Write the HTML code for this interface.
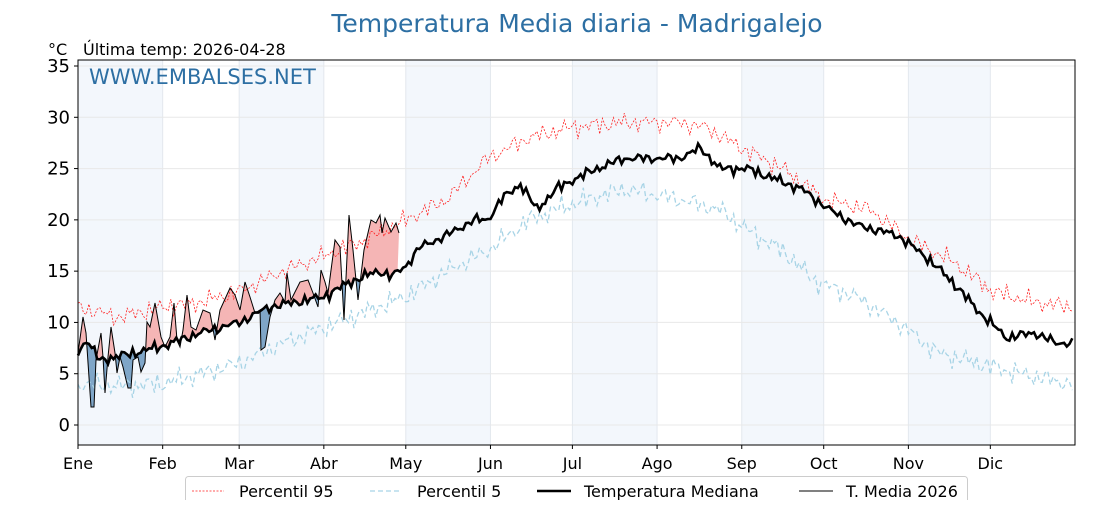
<!DOCTYPE html>
<html><head><meta charset="utf-8"><style>
body{margin:0;background:#fff;}
svg text{font-family:"DejaVu Sans","Liberation Sans",sans-serif;}
</style></head><body>
<svg id="s" width="1120" height="500" xmlns="http://www.w3.org/2000/svg"></svg>
<script>
const L=78,R=1075,T=60,B=445;
const X=d=>L+d*(R-L)/365, Y=v=>425-v*10.257;
function interp(a,d){for(let i=0;i<a.length-1;i++){if(d<=a[i+1][0]){const t=(d-a[i][0])/(a[i+1][0]-a[i][0]);return a[i][1]+t*(a[i+1][1]-a[i][1]);}}return a[a.length-1][1];}
function nz(d,s,a){return a*(Math.sin(d*1.7+s)*0.5+Math.sin(d*0.63+s*2)*0.3+Math.sin(d*3.1+s*3)*0.35+Math.sin(d*2.3+s*5)*0.3);}
const med=[[0,7],[3,8.3],[8,6.3],[20,7],[31,7.7],[45,9],[59,10],[70,11.5],[90,12.5],[100,14],[110,15],[115,14.5],[120,15.5],[125,17.3],[135,18.5],[145,20],[150,20],[155,22],[162,23.5],[168,21],[175,23],[182,24],[190,25],[200,26],[210,26],[220,26],[228,27],[235,25],[245,25],[255,24],[265,23],[275,21],[285,19.5],[300,18.5],[310,16.5],[320,14],[330,11],[340,8.5],[350,9],[358,8],[364,8]];
const p95=[[0,11.5],[15,10.5],[31,11.5],[45,12],[59,13],[75,15],[90,16.5],[105,18],[120,20],[135,22],[150,26],[165,28],[180,29],[200,29.5],[220,29.5],[230,29],[243,27],[258,25],[273,22],[290,21],[305,18],[320,16],[335,13],[350,12],[364,11.5]];
const p5=[[0,4],[15,3.8],[31,4],[45,5],[59,6],[75,8],[90,9.5],[105,11],[120,12.5],[135,15],[150,17],[165,20],[180,21.5],[200,23],[220,22],[235,21],[245,19],[258,17],[270,14],[285,12.5],[300,10],[315,7],[330,6],[345,5],[364,4]];
const cur=[[78,353],[83,317],[86,333],[91,407],[94,407],[96,360],[101,333],[103,357],[105,393],[108,357],[111,327],[115,353],[117,373],[120,357],[123,367],[128,388],[131,388],[133,360],[138,357],[141,372],[145,363],[147,322],[150,327],[155,303],[158,320],[161,337],[165,347],[170,337],[174,303],[177,340],[180,347],[183,330],[187,295],[191,327],[196,330],[203,310],[210,313],[215,340],[220,310],[230,288],[235,295],[240,310],[245,282],[250,297],[255,313],[260,310],[261,350],[265,347],[270,317],[275,300],[280,293],[285,302],[287,273],[291,300],[295,292],[300,282],[308,280],[313,293],[318,307],[321,270],[325,282],[328,293],[335,240],[340,247],[344,320],[349,215],[353,250],[358,300],[364,250],[371,220],[376,223],[380,215],[382,233],[385,218],[391,232],[396,223],[399,233]];
let s='';
const mx=[0,31,59,90,120,151,181,212,243,273,304,334,365];
for(let i=0;i<12;i+=2)s+=`<rect x="${X(mx[i])}" y="${T}" width="${X(mx[i+1])-X(mx[i])}" height="${B-T}" fill="#f3f7fc"/>`;
for(let i=1;i<12;i++)s+=`<line x1="${X(mx[i])}" y1="${T}" x2="${X(mx[i])}" y2="${B}" stroke="#e3e8ee" stroke-width="1"/>`;
for(let v=0;v<=35;v+=5)s+=`<line x1="${L}" y1="${Y(v)}" x2="${R}" y2="${Y(v)}" stroke="#e8e8e8" stroke-width="1"/>`;
function line(arr,sd,a){let p=[];for(let d=0;d<365;d++)p.push(X(d).toFixed(1)+','+Y(interp(arr,d)+nz(d,sd,a)).toFixed(1));return p;}
const medP=[];for(let d=0;d<365;d++)medP.push([X(d),Y(interp(med,d)+nz(d,5,0.5))]);
let curPts=cur.map(p=>p.join(','));
let medBack=medP.filter(p=>p[0]<=399).reverse().map(p=>p[0].toFixed(1)+','+p[1].toFixed(1));
let poly=curPts.concat(medBack).join(' ');
let medStr=medP.map(p=>p[0].toFixed(1)+','+p[1].toFixed(1)).join(' ');
s+=`<defs><clipPath id="ca"><polygon points="${L},${T} ${medStr} ${R},${T}"/></clipPath><clipPath id="cb"><polygon points="${L},${B} ${medStr} ${R},${B}"/></clipPath></defs>`;
s+=`<polygon points="${poly}" fill="#f5b5b5" clip-path="url(#ca)"/>`;
s+=`<polygon points="${poly}" fill="#7fa6c8" clip-path="url(#cb)"/>`;
s+=`<polyline points="${line(p95,1,0.9).join(' ')}" fill="none" stroke="#ff2020" stroke-width="0.8" stroke-dasharray="2,1.5"/>`;
s+=`<polyline points="${line(p5,2,1.0).join(' ')}" fill="none" stroke="#a8d4e6" stroke-width="1.3" stroke-dasharray="5,3"/>`;
s+=`<polyline points="${medStr}" fill="none" stroke="#000" stroke-width="2.6"/>`;
s+=`<polyline points="${curPts.join(' ')}" fill="none" stroke="#000" stroke-width="1"/>`;
s+=`<rect x="${L}" y="${T}" width="${R-L}" height="${B-T}" fill="none" stroke="#000" stroke-width="1"/>`;
for(let v=0;v<=35;v+=5){s+=`<line x1="${L-4}" y1="${Y(v)}" x2="${L}" y2="${Y(v)}" stroke="#000"/><text x="${L-8}" y="${Y(v)+6}" font-size="18" text-anchor="end">${v}</text>`;}
const mn=['Ene','Feb','Mar','Abr','May','Jun','Jul','Ago','Sep','Oct','Nov','Dic'];
for(let i=0;i<12;i++){s+=`<line x1="${X(mx[i])}" y1="${B}" x2="${X(mx[i])}" y2="${B+4}" stroke="#000"/><text x="${X(mx[i])}" y="${B+24}" font-size="16" text-anchor="middle">${mn[i]}</text>`;}
s+=`<text x="577" y="32" font-size="25" fill="#2d6fa3" text-anchor="middle">Temperatura Media diaria - Madrigalejo</text>`;
s+=`<text x="48" y="55" font-size="16">°C</text><text x="83" y="55" font-size="16">Última temp: 2026-04-28</text>`;
s+=`<text x="89" y="84" font-size="21" fill="#2d6fa3">WWW.EMBALSES.NET</text>`;
s+=`<rect x="185.5" y="476.5" width="782" height="30" rx="3" fill="#fff" stroke="#ccc"/>`;
s+=`<line x1="192" y1="491" x2="224" y2="491" stroke="#ff2020" stroke-width="0.8" stroke-dasharray="2,1.5"/><text x="239" y="497" font-size="16">Percentil 95</text>`;
s+=`<line x1="370" y1="491" x2="402" y2="491" stroke="#a8d4e6" stroke-width="1.3" stroke-dasharray="5,3"/><text x="417" y="497" font-size="16">Percentil 5</text>`;
s+=`<line x1="537" y1="491" x2="571" y2="491" stroke="#000" stroke-width="2.6"/><text x="584" y="497" font-size="16">Temperatura Mediana</text>`;
s+=`<line x1="799" y1="491" x2="833" y2="491" stroke="#000" stroke-width="1"/><text x="846" y="497" font-size="16">T. Media 2026</text>`;
document.getElementById('s').innerHTML=s;
</script>
</body></html>
